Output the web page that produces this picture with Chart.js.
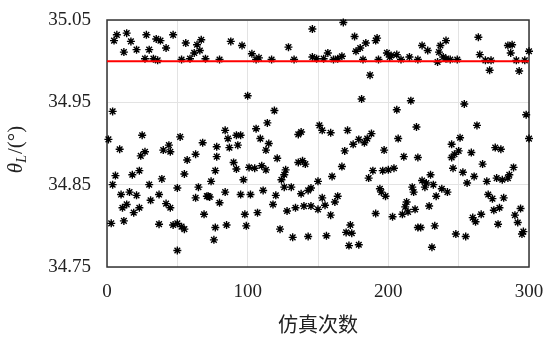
<!DOCTYPE html>
<html>
<head>
<meta charset="utf-8">
<script src="https://cdn.jsdelivr.net/npm/chart.js@4/dist/chart.umd.min.js"></script>
<style>
  html, body { margin: 0; padding: 0; background: #fff; }
  #wrap { width: 552px; height: 338px; }
</style>
</head>
<body>
<div id="wrap"><canvas id="c" width="552" height="338"></canvas></div>
<script>
const runs = [
  7, 14, 5, 17, 12, 21, 28, 30, 35, 38, 42, 47, 27, 33, 36, 56, 64, 67, 66, 62, 59, 53, 70, 4, 1, 25, 52,
  9, 27, 24, 44, 40, 45, 68, 57, 63, 6, 18, 23, 39, 55, 4, 30, 50, 65, 10, 16, 21, 37, 31, 63, 71,
  14, 11, 23, 19, 42, 45, 69, 3, 12, 37, 47, 50, 53, 55, 50,
  88, 96, 103, 106, 108, 80, 117, 129, 133, 146, 146, 100, 119, 114, 106, 84, 86, 92, 95, 109, 136, 138,
  115, 113, 78, 87, 93, 78, 121, 90, 77, 92, 101, 105, 110, 113, 127, 126, 124, 97, 74, 126,
  131, 136, 139, 141, 84, 72, 73, 95, 102, 111, 120, 80, 118, 145, 143, 138, 128, 134, 140, 145,
  98, 107, 77, 85, 99, 123, 132, 143, 76,
  168, 176, 184, 180, 177, 191, 192, 149, 157, 154, 161, 164, 167, 182, 193, 199, 202, 206, 201, 209,
  215, 221, 187, 181, 216, 206, 151, 153, 159, 171, 188, 220, 179, 185, 207,
  175, 183, 169, 197, 211, 221, 167, 160, 189, 196, 200, 204, 186, 150, 194, 195, 198, 217, 218, 153,
  164, 162, 155, 150, 159, 191, 203, 213, 212, 214, 210, 219, 221, 173, 170, 174, 156, 172, 179,
  224, 228, 237, 241, 236, 239, 241, 244, 249, 235, 264, 265, 269, 273, 272, 285, 288, 287, 291, 297,
  293, 300, 254, 298, 263, 251, 300,
  245, 250, 247, 245, 259, 276, 280, 246, 253, 261, 267, 230, 289, 277, 281, 285, 286, 270, 256, 224,
  227, 226, 232, 238, 242, 234, 271, 274, 282, 229, 279, 275, 294, 266, 260, 262, 290, 292, 278, 223,
  233, 296, 295, 248, 255, 231
];
const thetaL = [
  35.032, 35.034, 35.025, 35.024, 35.011, 35.014, 35.032, 35.014, 35.027, 35.025, 35.016, 35.032, 35.003, 35.003, 35.001, 35.022, 35.020, 35.026, 35.013, 35.010, 35.003, 35.002, 35.003, 34.939, 34.905, 34.910, 34.908,
  34.893, 34.890, 34.885, 34.898, 34.892, 34.890, 34.901, 34.880, 34.887, 34.861, 34.862, 34.867, 34.857, 34.863, 34.850, 34.850, 34.846, 34.847, 34.838, 34.841, 34.837, 34.838, 34.831, 34.834, 34.836,
  34.826, 34.822, 34.822, 34.816, 34.827, 34.822, 34.814, 34.803, 34.806, 34.802, 34.801, 34.803, 34.799, 34.796, 34.770,
  35.024, 35.019, 35.009, 35.002, 35.004, 35.002, 35.002, 35.017, 35.002, 35.039, 35.005, 34.958, 34.940, 34.925, 34.918, 34.916, 34.906, 34.910, 34.910, 34.906, 34.911, 34.914,
  34.900, 34.892, 34.896, 34.895, 34.898, 34.884, 34.882, 34.877, 34.867, 34.869, 34.871, 34.870, 34.873, 34.868, 34.868, 34.862, 34.856, 34.856, 34.854, 34.847,
  34.847, 34.877, 34.879, 34.875, 34.841, 34.836, 34.835, 34.838, 34.838, 34.843, 34.837, 34.828, 34.826, 34.846, 34.843, 34.839, 34.818, 34.822, 34.824, 34.824,
  34.814, 34.816, 34.798, 34.801, 34.800, 34.796, 34.786, 34.787, 34.783,
  35.047, 35.030, 35.022, 35.016, 35.012, 35.025, 35.028, 35.003, 35.010, 35.003, 35.002, 35.003, 35.006, 35.002, 35.002, 35.010, 35.007, 35.008, 35.005, 35.002,
  35.005, 35.002, 34.983, 34.954, 34.952, 34.941, 34.922, 34.916, 34.913, 34.916, 34.912, 34.920, 34.905, 34.906, 34.906,
  34.899, 34.901, 34.891, 34.892, 34.884, 34.883, 34.872, 34.860, 34.867, 34.867, 34.868, 34.870, 34.858, 34.854, 34.845, 34.841, 34.836, 34.847, 34.841, 34.834,
  34.836, 34.829, 34.825, 34.820, 34.813, 34.815, 34.811, 34.829, 34.823, 34.817, 34.814, 34.820, 34.798, 34.801, 34.792, 34.791, 34.788, 34.776, 34.777,
  35.019, 35.013, 35.019, 35.025, 35.011, 35.005, 35.003, 35.002, 35.002, 34.999, 35.029, 35.008, 35.001, 35.001, 34.989, 35.019, 35.020, 35.010, 35.001, 35.001,
  34.988, 35.012, 34.948, 34.935, 34.922, 34.907, 34.906,
  34.899, 34.891, 34.887, 34.883, 34.889, 34.895, 34.893, 34.870, 34.865, 34.860, 34.875, 34.862, 34.871, 34.858, 34.856, 34.858, 34.862, 34.854, 34.852, 34.855,
  34.852, 34.847, 34.850, 34.845, 34.841, 34.836, 34.838, 34.833, 34.834, 34.824, 34.822, 34.819, 34.821, 34.814, 34.810, 34.805, 34.813, 34.804, 34.802, 34.798,
  34.800, 34.793, 34.790, 34.790, 34.787, 34.774
];
// red reference level
const limitRuns = [0, 300];
const limitTheta = [35.0, 35.0];

const xTickLabels = [0, 100, 200, 300];
const yTickLabels = [34.75, 34.85, 34.95, 35.05];

const serif = "'Liberation Serif', 'Times New Roman', serif";

// box around the plot + y title with subscript
const framePlugin = {
  id: "frame",
  beforeDatasetsDraw(chart) {
    const { ctx, chartArea: a } = chart;
    ctx.save();
    ctx.strokeStyle = "#333";
    ctx.lineWidth = 1.5;
    ctx.strokeRect(a.left, a.top, a.right - a.left, a.bottom - a.top);
    ctx.restore();
  },
  afterDraw(chart) {
    const { ctx, chartArea: a } = chart;
    ctx.save();
    ctx.translate(16, (a.top + a.bottom) / 2 + 6);
    ctx.rotate(-Math.PI / 2);
    ctx.fillStyle = "#222";
    ctx.textBaseline = "middle";
    const f1 = "italic 21px " + serif;
    const f2 = "italic 14px " + serif;
    const f3 = "21px " + serif;
    ctx.font = f1; const w1 = ctx.measureText("θ").width;
    ctx.font = f2; const w2 = ctx.measureText("L").width;
    ctx.font = f3; const w3 = ctx.measureText("/(°)").width;
    let x = -(w1 + w2 + w3 + 1) / 2;
    ctx.font = f1; ctx.fillText("θ", x, 0); x += w1;
    ctx.font = f2; ctx.fillText("L", x, 6); x += w2 + 1;
    ctx.font = f3; ctx.fillText("/(°)", x, 0);
    ctx.restore();
  }
};

const points = runs.map((r, i) => ({ x: r, y: thetaL[i] }));
const limitLine = limitRuns.map((r, i) => ({ x: r, y: limitTheta[i] }));

new Chart(document.getElementById("c"), {
  type: "scatter",
  data: {
    datasets: [
      {
        type: "line",
        data: limitLine,
        borderColor: "#ff0000",
        borderWidth: 2,
        pointRadius: 0,
        order: 0
      },
      {
        data: points,
        pointStyle: "star",
        pointRadius: 4,
        borderColor: "#000",
        backgroundColor: "#000",
        borderWidth: 1.4,
        clip: false,
        order: 1
      }
    ]
  },
  options: {
    responsive: false,
    animation: false,
    layout: { padding: { top: 20, right: 23, left: 0, bottom: 0 } },
    plugins: { legend: { display: false }, tooltip: { enabled: false } },
    scales: {
      x: {
        type: "linear",
        min: 0,
        max: 300,
        afterFit(scale) {
          scale.height = 71;
          scale.paddingLeft = 0;
          scale.paddingRight = 0;
        },
        border: { display: false },
        grid: { color: "#e3e3e3", lineWidth: 1, drawTicks: false },
        ticks: {
          stepSize: 50,
          maxRotation: 0,
          autoSkip: false,
          padding: 14,
          color: "#222",
          font: { family: serif, size: 19 },
          callback: (v) => (xTickLabels.includes(v) ? String(v) : "")
        },
        title: {
          display: true,
          text: "仿真次数",
          color: "#222",
          font: { family: "'Noto Sans CJK SC', sans-serif", size: 20 },
          padding: { top: 0, bottom: 2 }
        }
      },
      y: {
        type: "linear",
        min: 34.75,
        max: 35.05,
        afterFit(scale) {
          scale.width = 107;
          scale.paddingTop = 0;
          scale.paddingBottom = 0;
        },
        border: { display: false },
        grid: { color: "#e3e3e3", lineWidth: 1, drawTicks: false },
        ticks: {
          stepSize: 0.1,
          padding: 16,
          color: "#222",
          font: { family: serif, size: 19 },
          callback: (v) => {
            const hit = yTickLabels.find((t) => Math.abs(t - v) < 1e-6);
            return hit === undefined ? "" : hit.toFixed(2);
          }
        }
      }
    }
  },
  plugins: [framePlugin]
});
</script>
</body>
</html>
